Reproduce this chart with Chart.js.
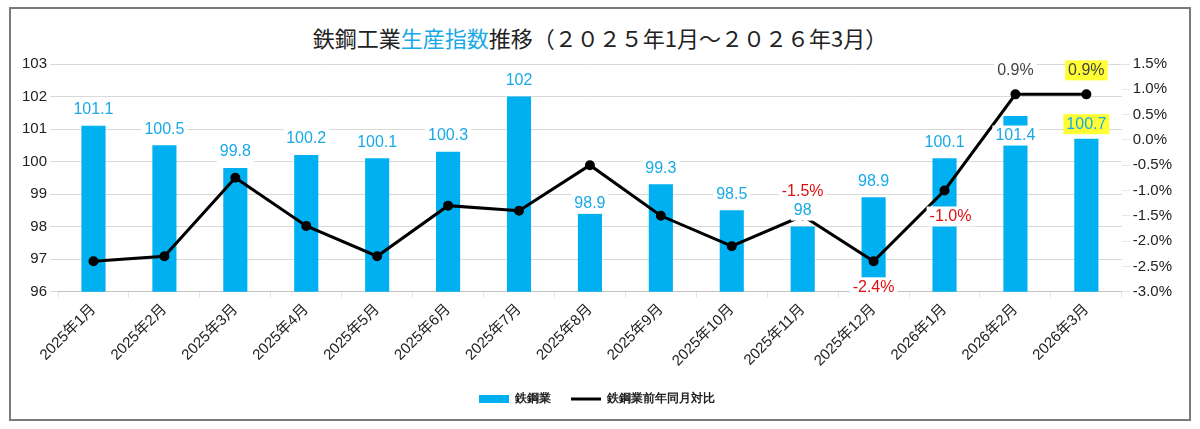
<!DOCTYPE html>
<html><head><meta charset="utf-8">
<script src="https://cdn.jsdelivr.net/npm/chart.js@4"></script>
<style>
body{margin:0;background:#fff;font-family:"Liberation Sans","Noto Sans CJK JP",sans-serif}
#wrap{position:absolute;left:9px;top:7px;width:1182px;height:414px;border:2px solid #7a7a7a;background:#fff;box-sizing:border-box}
#title{position:absolute;top:12px;width:100%;text-align:center;font-size:22px;color:#222;font-family:"Noto Sans CJK JP",sans-serif}
#title span{color:#19a9e6}
canvas{position:absolute;left:0;top:0}
</style></head><body>
<div id="wrap"><div id="title">鉄鋼工業<span>生産指数</span>推移（２０２５年1月～２０２６年3月）</div>
<canvas id="c" width="1178" height="410"></canvas></div>
<script>
var labels = ['2025年1月','2025年2月','2025年3月','2025年4月','2025年5月','2025年6月','2025年7月','2025年8月','2025年9月','2025年10月','2025年11月','2025年12月','2026年1月','2026年2月','2026年3月'];
var indexValues = [101.1,100.5,99.8,100.2,100.1,100.3,102,98.9,99.3,98.5,98,98.9,100.1,101.4,100.7];
var yoyValues = [-2.4,-2.3,-0.75,-1.7,-2.3,-1.3,-1.4,-0.5,-1.5,-2.1,-1.5,-2.4,-1.0,0.9,0.9];
var yoyShown = {10:'-1.5%',11:'-2.4%',12:'-1.0%',13:'0.9%',14:'0.9%'};

var labelPlugin = {
  id: 'boxLabels',
  afterDatasetsDraw: function(chart) {
    var ctx = chart.ctx;
    ctx.save();
    ctx.font = '16px "Liberation Sans", sans-serif';
    ctx.textAlign = 'center'; ctx.textBaseline = 'middle';
    function box(text, x, y, bg, color) {
      var w = ctx.measureText(text).width + 6;
      ctx.fillStyle = bg; ctx.fillRect(x - w/2, y - 10, w, 20);
      ctx.fillStyle = color; ctx.fillText(text, x, y);
    }
    var bars = chart.getDatasetMeta(0).data;
    var ys = chart.scales.y;
    bars.forEach(function(b, i) {
      var y = b.y - 16;
      if (i === 7) y = ys.getPixelForValue(98.7);
      if (i === 13) y = ys.getPixelForValue(100.8);
      if (i === 14) y = ys.getPixelForValue(101.15);
      box(String(indexValues[i]), b.x, y, i === 14 ? '#ffff33' : '#fff', '#19a9e6');
    });
    var pts = chart.getDatasetMeta(1).data;
    Object.keys(yoyShown).forEach(function(k) {
      var i = +k, p = pts[i];
      var dy = (i === 11 || i === 12) ? 26 : -24;
      var color = i >= 13 ? '#444' : '#e01010';
      box(yoyShown[k], p.x + (i === 12 ? 6 : 0), p.y + dy, i === 14 ? '#ffff33' : '#fff', color);
    });
    ctx.restore();
  }
};

new Chart(document.getElementById('c'), {
  data: {
    labels: labels,
    datasets: [
      { type: 'bar', label: '鉄鋼業', data: indexValues, backgroundColor: '#00b0f0', yAxisID: 'y', barPercentage: 0.4, categoryPercentage: 0.85, order: 2 },
      { type: 'line', label: '鉄鋼業前年同月対比', data: yoyValues, borderColor: '#000', backgroundColor: '#000', borderWidth: 3, pointRadius: 3.5, yAxisID: 'y1', order: 1 }
    ]
  },
  options: {
    responsive: false, animation: false,
    layout: { padding: { left: 8, right: 14, top: 55, bottom: 4 } },
    scales: {
      x: { grid: { display: true, drawOnChartArea: false, tickLength: 6 }, ticks: { maxRotation: 45, minRotation: 45, color: '#222', font: { size: 15, family: '"Liberation Sans","Noto Sans CJK JP"' } } },
      y: { min: 96, max: 103, ticks: { stepSize: 1, color: '#222', font: { size: 15 } }, grid: { color: '#d9d9d9' }, border: { display: false } },
      y1: { position: 'right', min: -3, max: 1.5, ticks: { stepSize: 0.5, color: '#222', font: { size: 15 }, callback: function(v) { return v.toFixed(1) + '%'; } }, grid: { drawOnChartArea: false }, border: { display: false } }
    },
    plugins: {
      legend: { position: 'bottom', labels: {
        color: '#222', font: { size: 12, weight: 'bold' }, padding: 20,
        sort: function(a, b) { return a.datasetIndex - b.datasetIndex; },
        generateLabels: function(chart) {
          var items = Chart.defaults.plugins.legend.labels.generateLabels(chart);
          items.forEach(function(it) { it.pointStyle = it.datasetIndex === 0 ? 'rect' : 'line'; it.lineWidth = it.datasetIndex === 0 ? 0 : 3; it.strokeStyle = '#000'; });
          return items;
        },
        usePointStyle: true, pointStyleWidth: 30, boxHeight: 8 } },
      tooltip: { enabled: false }
    }
  },
  plugins: [labelPlugin]
});
</script></body></html>
